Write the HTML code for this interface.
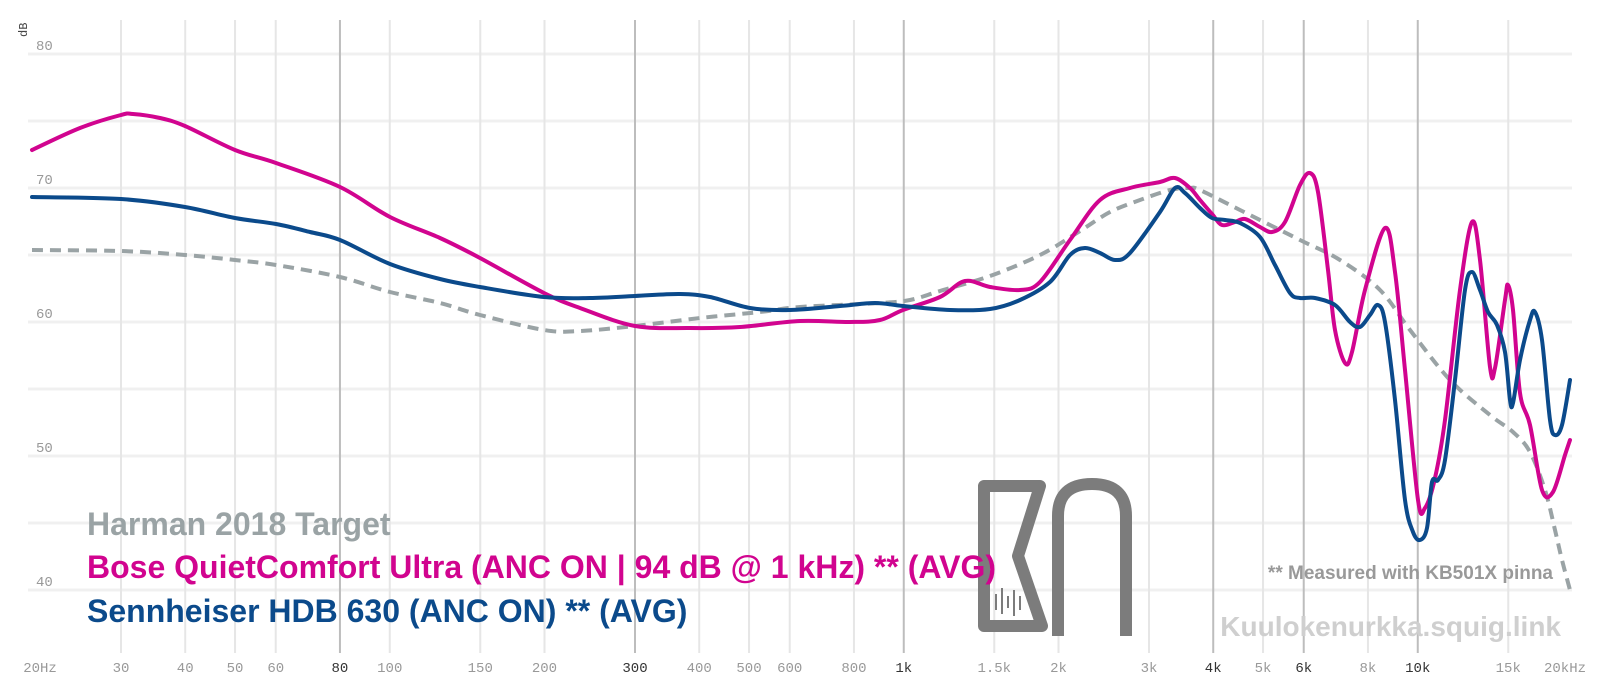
<!DOCTYPE html>
<html><head><meta charset="utf-8"><style>
html,body{margin:0;padding:0;background:#fff;}
svg{display:block;}
text{font-family:"Liberation Mono",monospace;}
.b{font-family:"Liberation Sans",sans-serif;font-weight:bold;}
</style></head><body>
<svg id="s" width="1600" height="692" viewBox="0 0 1600 692" xmlns="http://www.w3.org/2000/svg">
<g id="grid"></g>
<text x="0" y="0" transform="translate(27,37) rotate(-90)" font-size="12" fill="#444">dB</text>
<g id="ylab" font-size="14" fill="#999"></g>
<g id="xlab" font-size="14" fill="#999" text-anchor="middle"></g>
<g transform="translate(-8,-4)">
<g fill="none" stroke="#7c7c7c" stroke-width="12" stroke-linejoin="round">
<path d="M992,490 L1048,490 L1026,560 L1050,630 L992,630 Z"/>
<path d="M1066,640 L1066,520 Q1066,488 1100,488 Q1134,488 1134,520 L1134,640"/>
</g>
<g stroke="#7c7c7c" stroke-width="2">
<line x1="1004" y1="598" x2="1004" y2="614"/><line x1="1010" y1="592" x2="1010" y2="618"/><line x1="1016" y1="600" x2="1016" y2="612"/><line x1="1022" y1="594" x2="1022" y2="620"/><line x1="1028" y1="600" x2="1028" y2="614"/>
</g>
</g>
<g id="curves" fill="none" stroke-width="4" stroke-linecap="round"></g>
<text class="b" x="87" y="535" font-size="32" fill="#9aa3a5">Harman 2018 Target</text>
<text class="b" x="87" y="578" font-size="32" fill="#d1048f">Bose QuietComfort Ultra (ANC ON | 94 dB @ 1 kHz) ** (AVG)</text>
<text class="b" x="87" y="622" font-size="32" fill="#0b4a8b">Sennheiser HDB 630 (ANC ON) ** (AVG)</text>
<text class="b" x="1553" y="579" font-size="19" fill="#999" text-anchor="end">** Measured with KB501X pinna</text>
<text class="b" x="1561" y="636" font-size="28" fill="#cfcfcf" text-anchor="end">Kuulokenurkka.squig.link</text>
</svg>
<script>
var NS="http://www.w3.org/2000/svg";
function X(f){return 121+514*Math.log10(f/30);}
function Y(d){return 54+(80-d)*13.4;}
function el(p,t,a,txt){var e=document.createElementNS(NS,t);for(var k in a)e.setAttribute(k,a[k]);if(txt)e.textContent=txt;p.appendChild(e);return e;}
var g=document.getElementById('grid');
for(var d=80;d>=40;d-=5){el(g,'line',{x1:28,x2:1572,y1:Y(d),y2:Y(d),stroke:'#f0f0f0','stroke-width':3});}
var fs=[[30,'30'],[40,'40'],[50,'50'],[60,'60'],[80,'80',1],[100,'100'],[150,'150'],[200,'200'],[300,'300',1],[400,'400'],[500,'500'],[600,'600'],[800,'800'],[1000,'1k',1],[1500,'1.5k'],[2000,'2k'],[3000,'3k'],[4000,'4k',1],[5000,'5k'],[6000,'6k',1],[8000,'8k'],[10000,'10k',1],[15000,'15k']];
var xl=document.getElementById('xlab');
fs.forEach(function(a){var x=X(a[0]);el(g,'line',{x1:x,x2:x,y1:20,y2:653,stroke:a[2]?'#bdbdbd':'#e6e6e6','stroke-width':2});
el(xl,'text',{x:x,y:672,fill:a[2]?'#333':'#999'},a[1]);});
el(xl,'text',{x:40,y:672},'20Hz');el(xl,'text',{x:1565,y:672},'20kHz');
var yl=document.getElementById('ylab');
[80,70,60,50,40].forEach(function(d){el(yl,'text',{x:36,y:Y(d)-4},String(d));});
function path(p){var s='M'+p[0][0]+','+p[0][1];for(var i=0;i<p.length-1;i++){var p0=p[i-1]||p[i],p1=p[i],p2=p[i+1],p3=p[i+2]||p2;
var c1x=p1[0]+(p2[0]-p0[0])/6,c1y=p1[1]+(p2[1]-p0[1])/6,c2x=p2[0]-(p3[0]-p1[0])/6,c2y=p2[1]-(p3[1]-p1[1])/6;
s+=' C'+c1x.toFixed(1)+','+c1y.toFixed(1)+' '+c2x.toFixed(1)+','+c2y.toFixed(1)+' '+p2[0]+','+p2[1];}return s;}
var grey=[[32,250],[121,251],[185,255],[235,260],[276,265],[340,277],[390,292],[440,303],[480,315],[544,330],[580,331],[635,326],[700,318],[760,312],[800,307],[880,303],[910,300],[940,291],[990,276],[1040,255],[1080,231],[1110,212],[1140,200],[1170,190],[1190,188],[1200,190],[1240,210],[1300,240],[1340,260],[1380,290],[1410,330],[1450,380],[1490,415],[1513,432],[1530,452],[1545,490],[1555,530],[1562,560],[1570,590]];
var mag=[[32,150],[80,128],[121,115],[133,114],[160,118],[185,126],[235,150],[276,163],[340,187],[390,217],[440,238],[480,258],[544,293],[580,308],[635,326],[690,328],[740,327],[800,321],[850,322],[880,320],[903,310],[940,297],[965,281],[990,287],[1020,290],[1040,282],[1070,240],[1100,200],[1130,188],[1160,182],[1175,178],[1190,188],[1200,200],[1212,214],[1222,225],[1235,222],[1245,219],[1260,227],[1272,232],[1285,222],[1300,185],[1310,173],[1318,192],[1328,270],[1335,330],[1345,363],[1352,352],[1365,290],[1385,228],[1395,272],[1405,370],[1418,500],[1425,508],[1435,478],[1445,420],[1460,290],[1472,222],[1480,260],[1490,367],[1495,368],[1505,300],[1508,285],[1513,310],[1520,393],[1530,425],[1542,490],[1553,492],[1565,455],[1570,440]];
var blue=[[32,197],[121,199],[185,207],[235,218],[276,224],[310,232],[340,240],[390,264],[440,279],[480,287],[544,297],[590,298],[635,296],[680,294],[710,297],[750,308],[790,310],[840,306],[875,303],[903,306],[950,310],[990,309],[1020,300],[1050,282],[1070,255],[1085,248],[1100,253],[1115,260],[1130,253],[1160,212],[1175,188],[1185,193],[1200,208],[1212,218],[1225,220],[1240,223],[1260,237],[1275,265],[1290,293],[1300,298],[1315,298],[1335,305],[1350,322],[1360,327],[1370,315],[1378,305],[1385,322],[1395,400],[1405,500],[1413,532],[1420,540],[1427,528],[1432,482],[1438,480],[1445,460],[1455,380],[1465,290],[1472,272],[1480,290],[1488,312],[1497,325],[1505,352],[1510,400],[1513,403],[1520,360],[1530,320],[1535,312],[1542,340],[1550,420],[1555,435],[1562,425],[1570,380]];
var c=document.getElementById('curves');
el(c,'path',{d:path(grey),stroke:'#9aa3a5','stroke-dasharray':'11 7','stroke-linecap':'butt'});
el(c,'path',{d:path(mag),stroke:'#d1048f'});
el(c,'path',{d:path(blue),stroke:'#0b4a8b'});
</script>
</body></html>
